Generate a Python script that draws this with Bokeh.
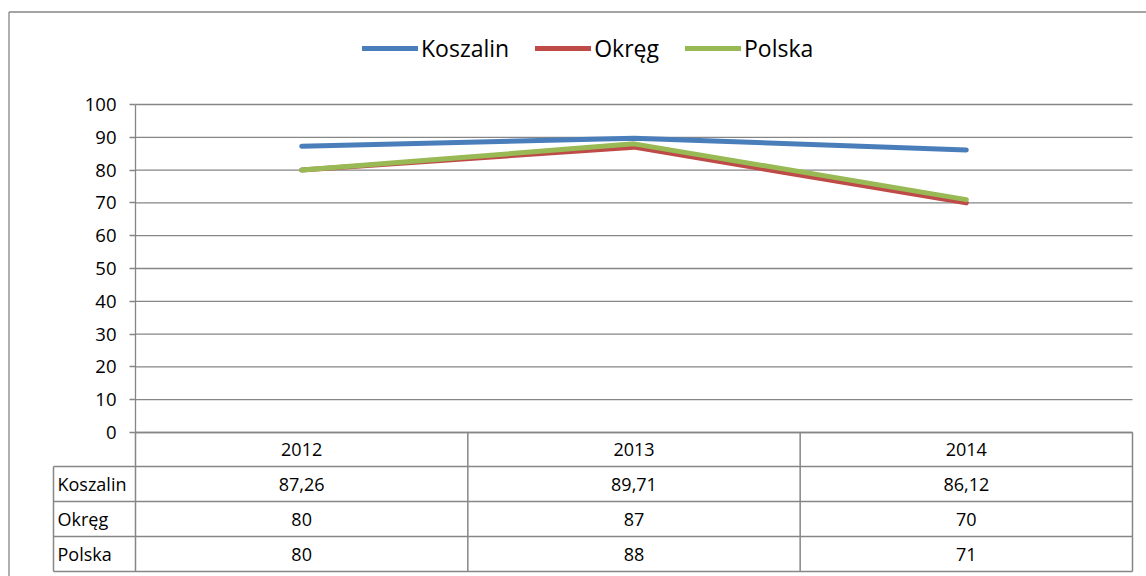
from bokeh.plotting import figure
from bokeh.models import (Range1d, LinearAxis, FixedTicker, Legend, LegendItem,
                          ColumnDataSource)
from bokeh.core.properties import value
from bokeh.embed import file_html
from bokeh.resources import INLINE

# ---- data ----
years = ["2012", "2013", "2014"]
series_names = ["Koszalin", "Okręg", "Polska"]
koszalin = [87.26, 89.71, 86.12]
okreg = [80, 87, 70]
polska = [80, 88, 71]
y_ticks = [0, 10, 20, 30, 40, 50, 60, 70, 80, 90, 100]

# ---- layout constants (canvas pixels) ----
W, H = 1146, 576
COL_PX = 332.33           # width of one year column
AX_X = 135                # canvas x of the value axis (x = -0.5)
Y100, Y0 = 104, 432       # canvas y of 100 and 0
PPU = (Y0 - Y100) / 100.0

def dx(px):  # canvas x -> data x
    return -0.5 + (px - AX_X) / COL_PX

def dy(py):  # canvas y -> data y
    return (Y0 - py) / PPU

colors = ["#4A7EBB", "#BE4B48", "#98B954"]
GRAY = "#868686"
FONT = "Open Sans"

p = figure(width=W, height=H,
           x_range=Range1d(dx(0), dx(W)), y_range=Range1d(dy(H), dy(0)),
           min_border=0, toolbar_location=None, output_backend="svg",
           x_axis_location=None, y_axis_location=None)
p.outline_line_color = None
p.outline_line_alpha = 0
p.border_fill_color = "white"
p.background_fill_color = "white"
p.grid.visible = False

# outer border (left & top)
p.segment(x0=[dx(8.5), dx(8.5)], y0=[dy(11.5), dy(11.5)],
          x1=[dx(8.5), dx(W + 2)], y1=[dy(H + 2), dy(11.5)],
          line_color=GRAY, line_width=1.3)

# horizontal gridlines within plot area
n = len(years)
p.segment(x0=[-0.5] * len(y_ticks), y0=y_ticks,
          x1=[n - 0.5] * len(y_ticks), y1=y_ticks,
          line_color=GRAY, line_width=1.3)

# value axis
yax = LinearAxis(fixed_location=-0.5, ticker=FixedTicker(ticks=y_ticks),
                 bounds=(0, 100))
yax.axis_line_color = GRAY
yax.axis_line_width = 1.3
yax.major_tick_line_color = GRAY
yax.major_tick_line_width = 1.3
yax.major_tick_out = 6
yax.major_tick_in = 0
yax.minor_tick_out = 0
yax.minor_tick_in = 0
yax.major_label_text_font = FONT
yax.major_label_text_font_size = "18.5px"
yax.major_label_text_color = "black"
yax.major_label_standoff = 13
p.add_layout(yax, "left")

# data table grid
row_py = [432, 466, 501, 536, 571]
row_y = [dy(v) for v in row_py]
lab_x = dx(53)
xs0, ys0, xs1, ys1 = [], [], [], []
for i, yy in enumerate(row_y):
    xs0.append(-0.5 if i == 0 else lab_x)
    xs1.append(n - 0.5)
    ys0.append(yy)
    ys1.append(yy)
for k in range(n + 1):
    xs0.append(k - 0.5)
    xs1.append(k - 0.5)
    ys0.append(row_y[0])
    ys1.append(row_y[-1])
xs0.append(lab_x); xs1.append(lab_x); ys0.append(row_y[1]); ys1.append(row_y[-1])
p.segment(x0=xs0, y0=ys0, x1=xs1, y1=ys1, line_color=GRAY, line_width=1.5)

# series lines
xs = list(range(n))
all_series = [koszalin, okreg, polska]
renderers = []
for vals, c in zip(all_series, colors):
    r = p.line(xs, vals, line_color=c, line_width=5,
               line_cap="round", line_join="round")
    renderers.append(r)

# table texts
def fmt(v):
    if float(v).is_integer():
        return str(int(v))
    return f"{v:.2f}".replace(".", ",")

centers = [(row_y[i] + row_y[i + 1]) / 2 for i in range(len(row_y) - 1)]
tx, ty, tt = [], [], []
for j, yr in enumerate(years):
    tx.append(j); ty.append(centers[0]); tt.append(yr)
for i, vals in enumerate(all_series):
    for j, v in enumerate(vals):
        tx.append(j); ty.append(centers[i + 1]); tt.append(fmt(v))
p.text(x="x", y="y", text="t", source=ColumnDataSource(dict(x=tx, y=ty, t=tt)),
       text_font=value(FONT), text_font_size="18px", text_color="black",
       text_align="center", text_baseline="middle")

p.text(x=[dx(57)] * 3, y=centers[1:], text=series_names,
       text_font=value(FONT), text_font_size="18px", text_color="black",
       text_align="left", text_baseline="middle")

# legend
legend = Legend(items=[LegendItem(label=nm, renderers=[r])
                       for nm, r in zip(series_names, renderers)],
                orientation="horizontal", location=(362, H - 51 - 13),
                padding=0, margin=0, spacing=26, label_standoff=3,
                glyph_width=56, glyph_height=26, label_height=26,
                border_line_color=None, background_fill_alpha=0)
legend.label_text_font = FONT
legend.label_text_font_size = "23px"
legend.label_text_color = "black"
p.add_layout(legend)

open("out.html", "w").write(file_html(p, INLINE))
